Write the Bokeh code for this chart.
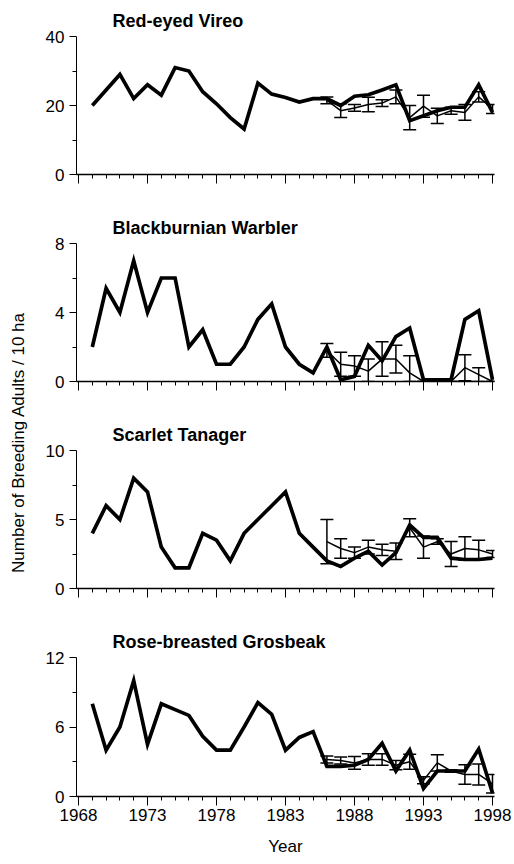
import numpy as np
from bokeh.plotting import figure
from bokeh.models import Range1d, FixedTicker, Whisker, TeeHead, ColumnDataSource, Title
from bokeh.layouts import row, column
from bokeh.embed import file_html
from bokeh.resources import INLINE
from bokeh.core.properties import value

# ---------------- data ----------------
years = list(range(1969, 1999))          # long-term census plot (thick line)
sub_years = list(range(1986, 1999))      # mean of study plots (thin line, +/- SE)
x_ticks = [1968, 1973, 1978, 1983, 1988, 1993, 1998]
x_minor = list(range(1968, 1999))

titles = ["Red-eyed Vireo", "Blackburnian Warbler", "Scarlet Tanager", "Rose-breasted Grosbeak"]

vireo_census = [20, 24.5, 29, 22, 26, 23, 31, 30, 24, 20.5, 16.5, 13.2, 26.5, 23.3, 22.3, 21,
                22, 22, 20, 22.7, 23.1, 24.5, 26, 15.6, 17, 18.5, 19.5, 19.5, 26, 18]
vireo_mean = [21.5, 18.5, 19.3, 20.3, 20.7, 22.5, 16.5, 19.8, 17, 18.5, 18, 22.5, 19]
vireo_se = [1.0, 2.0, 1.0, 2.1, 1.0, 2.0, 3.5, 3.2, 2.2, 1.0, 2.3, 1.5, 1.3]

warbler_census = [2, 5.4, 4, 7, 4, 6, 6, 2, 3, 1, 1, 2, 3.6, 4.5, 2, 1, 0.5,
                  2, 0.1, 0.3, 2.1, 1.2, 2.6, 3.1, 0.1, 0.1, 0.1, 3.6, 4.1, 0.1]
warbler_mean = [1.8, 1.0, 0.9, 0.6, 1.3, 1.3, 0.5, 0, 0, 0, 0.8, 0.4, 0]
warbler_se = [0.4, 0.7, 0.6, 0.7, 1.0, 0.8, 1.0, 0, 0, 0, 0.75, 0.4, 0]

tanager_census = [4, 6, 5, 8, 7, 3, 1.5, 1.5, 4, 3.5, 2, 4, 5, 6, 7, 4, 3,
                  2, 1.6, 2.2, 2.7, 1.7, 2.6, 4.6, 3.7, 3.7, 2.2, 2.1, 2.1, 2.2]
tanager_mean = [3.4, 2.9, 2.6, 3.0, 2.8, 2.7, 4.4, 3.0, 3.4, 2.5, 2.9, 2.8, 2.5]
tanager_se = [1.6, 0.7, 0.4, 0.5, 0.4, 0.6, 0.65, 0.8, 0.2, 0.9, 0.85, 0.7, 0.25]

grosbeak_census = [8, 4, 6, 10, 4.5, 8, 7.5, 7, 5.2, 4, 4, 6, 8.1, 7.1, 4, 5.1, 5.6,
                   2.6, 2.6, 2.7, 3.2, 4.6, 2.2, 4.0, 0.7, 2.2, 2.2, 2.2, 4.1, 0.3]
grosbeak_mean = [3.2, 3.1, 2.9, 3.2, 3.2, 2.7, 3.0, 1.4, 2.9, 2.2, 1.9, 1.9, 1.1]
grosbeak_se = [0.3, 0.3, 0.55, 0.5, 0.5, 0.4, 0.65, 0.3, 0.7, 0.1, 0.85, 0.9, 0.8]

y_max = [40, 8, 10, 12]
y_major = [[0, 20, 40], [0, 4, 8], [0, 5, 10], [0, 6, 12]]
y_minor = [[10, 30], [2, 6], [2.5, 7.5], [3, 9]]

census = [vireo_census, warbler_census, tanager_census, grosbeak_census]
means = [vireo_mean, warbler_mean, tanager_mean, grosbeak_mean]
ses = [vireo_se, warbler_se, tanager_se, grosbeak_se]

FONT = "Liberation Sans"


def make_panel(i, height, bottom_border, last):
    p = figure(width=474, height=height,
               x_range=Range1d(1967.855, 1998.145), y_range=Range1d(0, y_max[i]),
               output_backend="svg", toolbar_location=None,
               min_border_left=38, min_border_right=18, min_border_top=36,
               min_border_bottom=bottom_border)
    p.grid.visible = False
    p.outline_line_color = None
    p.background_fill_color = "white"
    p.border_fill_color = "white"

    t = Title(text=titles[i], align="left", offset=36, standoff=12,
              text_font=FONT, text_font_size="18px", text_font_style="bold",
              text_color="black")
    p.title = t

    # thin line with error bars
    lo = [max(0.0, m - s) for m, s in zip(means[i], ses[i])]
    hi = [m + s for m, s in zip(means[i], ses[i])]
    src = ColumnDataSource(dict(x=sub_years, y=means[i], lo=lo, hi=hi))
    p.line("x", "y", source=src, line_width=1.5, line_color="black")
    w = Whisker(base="x", upper="hi", lower="lo", source=src,
                line_width=1.5, line_color="black",
                upper_head=TeeHead(size=13, line_width=1.5, line_color="black"),
                lower_head=TeeHead(size=13, line_width=1.5, line_color="black"))
    p.add_layout(w)

    # thick census line
    p.line(years, census[i], line_width=3.7, line_color="black", line_join="miter")

    xa = p.xaxis[0]
    xa.ticker = FixedTicker(ticks=x_ticks, minor_ticks=x_minor)
    xa.major_tick_out = 9
    xa.major_tick_in = 0
    xa.minor_tick_out = 4
    xa.minor_tick_in = 0
    xa.axis_line_width = 1.5
    xa.major_tick_line_width = 1
    xa.axis_line_color = "black"
    xa.major_tick_line_color = "black"
    xa.minor_tick_line_color = "black"
    xa.major_label_text_font = FONT
    xa.major_label_text_font_size = "17px"
    xa.major_label_text_color = "black"
    xa.major_label_standoff = 3
    if last:
        xa.axis_label = "Year"
        xa.axis_label_text_font = FONT
        xa.axis_label_text_font_size = "17px"
        xa.axis_label_text_font_style = "normal"
        xa.axis_label_text_color = "black"
        xa.axis_label_standoff = 13
    else:
        xa.major_label_overrides = {t: "" for t in x_ticks}

    ya = p.yaxis[0]
    ya.ticker = FixedTicker(ticks=y_major[i], minor_ticks=y_minor[i])
    ya.major_tick_out = 7
    ya.major_tick_in = 0
    ya.minor_tick_out = 4
    ya.minor_tick_in = 0
    ya.axis_line_width = 1
    ya.axis_line_color = "black"
    ya.major_tick_line_color = "black"
    ya.minor_tick_line_color = "black"
    ya.major_label_text_font = FONT
    ya.major_label_text_font_size = "17px"
    ya.major_label_text_color = "black"
    ya.major_label_standoff = 5
    return p


panels = [make_panel(0, 207, 33, False),
          make_panel(1, 207, 33, False),
          make_panel(2, 207, 33, False),
          make_panel(3, 241, 66, True)]

lab = figure(width=38, height=862, x_range=Range1d(0, 38), y_range=Range1d(0, 862),
             toolbar_location=None, output_backend="svg", min_border=0,
             x_axis_type=None, y_axis_type=None)
lab.outline_line_color = None
lab.grid.visible = False
lab.text(x=[18], y=[420], text=["Number of Breeding Adults / 10 ha"], angle=np.pi / 2,
         text_align="center", text_baseline="middle", text_font=value(FONT),
         text_font_size="17px", text_color="black")

layout = row(lab, column(*panels))

open("out.html", "w").write(file_html(layout, INLINE))
